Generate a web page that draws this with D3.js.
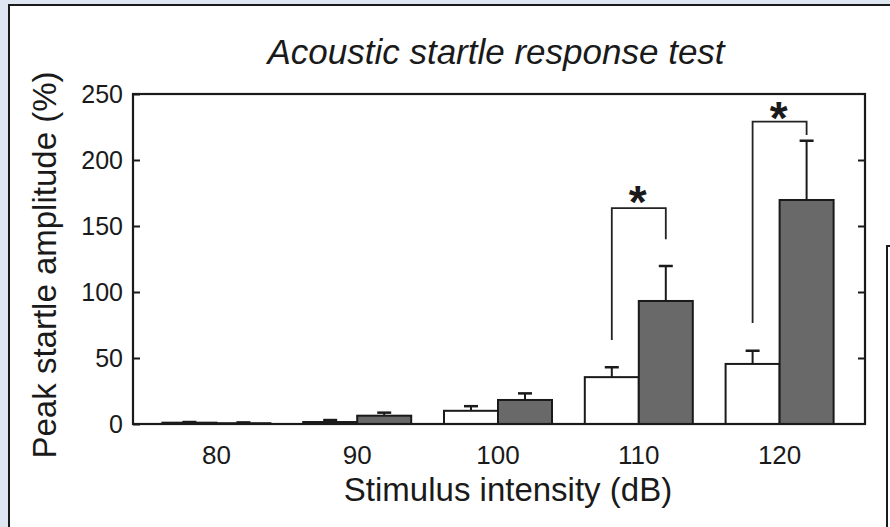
<!DOCTYPE html>
<html>
<head>
<meta charset="utf-8">
<script src="https://cdn.jsdelivr.net/npm/d3@7"></script>
<style>
  html, body { margin: 0; padding: 0; background: #ffffff; }
  svg { display: block; }
  text { font-family: "Liberation Sans", Arial, Helvetica, sans-serif; fill: #1a1a1a; }
</style>
</head>
<body>
<svg id="chart" width="890" height="527"></svg>
<script>
// ---- data ----
const categories = ["80", "90", "100", "110", "120"];
const groups = ["control", "mutant"];
const controlMean = [1, 1.5, 10, 35.5, 45.5];
const controlErr  = [1.5, 3, 13.5, 43, 55.5];
const mutantMean  = [0.6, 6.3, 18.2, 93.2, 169.7];
const mutantErr   = [1.2, 8.6, 23.2, 119.7, 214.6];
const yTicks = [0, 50, 100, 150, 200, 250];
// significance brackets: category, top, left foot, right foot, star centre
const sigCats  = ["110", "120"];
const sigTop   = [163.5, 229];
const sigLeft  = [63.6, 76.5];
const sigRight = [140, 219];
const sigStar  = [174.6, 237.9];

const titleText = "Acoustic startle response test";
const xTitle = "Stimulus intensity (dB)";
const yTitle = "Peak startle amplitude (%)";

// ---- layout ----
const W = 890, H = 527;
const plot = { left: 133, right: 865, top: 94, bottom: 424 };

const svg = d3.select("#chart");

// background + panel
svg.append("rect").attr("x", 0).attr("y", 0).attr("width", W).attr("height", H).attr("fill", "#dde6f1");
svg.append("rect").attr("x", 9).attr("y", 5).attr("width", W - 9).attr("height", H - 5).attr("fill", "#ffffff");
svg.append("path").attr("d", `M9,${H} V5 H${W}`).attr("fill", "none").attr("stroke", "#1a1a1a").attr("stroke-width", 2);
svg.append("path").attr("d", `M887,${H} V246 H${W}`).attr("fill", "none").attr("stroke", "#1a1a1a").attr("stroke-width", 2);

const y = d3.scaleLinear().domain([0, 250]).range([plot.bottom, plot.top]);
const x = d3.scaleBand().domain(categories).range([146, 850]).padding(0);
const inner = d3.scaleBand().domain(groups)
  .range([(x.bandwidth() - 108) / 2, (x.bandwidth() + 108) / 2]).padding(0);

// bars
const data = categories.map((c, i) => ({
  cat: c,
  vals: [
    { g: "control", v: controlMean[i], e: controlErr[i] },
    { g: "mutant", v: mutantMean[i], e: mutantErr[i] }
  ]
}));

const gBars = svg.append("g");
const grp = gBars.selectAll("g.cat").data(data).join("g")
  .attr("class", "cat")
  .attr("transform", d => `translate(${x(d.cat)},0)`);

// error bars (drawn first so bars sit above)
grp.selectAll("g.err").data(d => d.vals).join("g").attr("class", "err").each(function(d) {
  const g = d3.select(this);
  const cx = inner(d.g) + inner.bandwidth() / 2;
  g.append("line").attr("x1", cx).attr("x2", cx).attr("y1", y(d.v)).attr("y2", y(d.e))
    .attr("stroke", "#1a1a1a").attr("stroke-width", 2);
  g.append("line").attr("x1", cx - 7).attr("x2", cx + 7).attr("y1", y(d.e)).attr("y2", y(d.e))
    .attr("stroke", "#1a1a1a").attr("stroke-width", 2.5);
});

grp.selectAll("rect").data(d => d.vals).join("rect")
  .attr("x", d => inner(d.g))
  .attr("width", inner.bandwidth())
  .attr("y", d => y(d.v))
  .attr("height", d => y(0) - y(d.v))
  .attr("fill", d => d.g === "control" ? "#ffffff" : "#696969")
  .attr("stroke", "#1a1a1a")
  .attr("stroke-width", 2);

// frame
svg.append("rect")
  .attr("x", plot.left).attr("y", plot.top)
  .attr("width", plot.right - plot.left).attr("height", plot.bottom - plot.top)
  .attr("fill", "none").attr("stroke", "#1a1a1a").attr("stroke-width", 2.2);

// y axis left (inward ticks)
const yAxisL = d3.axisLeft(y).tickValues(yTicks).tickSizeInner(-7).tickSizeOuter(0).tickPadding(10);
const gyl = svg.append("g").attr("transform", `translate(${plot.left},0)`).call(yAxisL);
gyl.select(".domain").remove();
gyl.selectAll(".tick line").attr("stroke", "#1a1a1a").attr("stroke-width", 2);
gyl.selectAll(".tick text").attr("font-size", 25).attr("font-family", "Liberation Sans, Arial, sans-serif").attr("fill", "#1a1a1a");

// y axis right (inward ticks, no labels)
const yAxisR = d3.axisRight(y).tickValues(yTicks.filter(t => t > 0 && t < 250)).tickSizeInner(-7).tickSizeOuter(0).tickFormat("");
const gyr = svg.append("g").attr("transform", `translate(${plot.right},0)`).call(yAxisR);
gyr.select(".domain").remove();
gyr.selectAll(".tick line").attr("stroke", "#1a1a1a").attr("stroke-width", 2);

// x axis
const xAxis = d3.axisBottom(x).tickSize(0).tickPadding(0);
const gx = svg.append("g").attr("transform", `translate(0,${plot.bottom})`).call(xAxis);
gx.select(".domain").remove();
gx.selectAll(".tick text").attr("font-size", 26).attr("dy", null).attr("y", 40)
  .attr("font-family", "Liberation Sans, Arial, sans-serif").attr("fill", "#1a1a1a");

// significance brackets
sigCats.forEach((c, i) => {
  const xl = x(c) + inner("control") + inner.bandwidth() / 2;
  const xr = x(c) + inner("mutant") + inner.bandwidth() / 2;
  svg.append("path")
    .attr("d", `M${xl},${y(sigLeft[i])} V${y(sigTop[i])} H${xr} V${y(sigRight[i])}`)
    .attr("fill", "none").attr("stroke", "#222").attr("stroke-width", 1.8);
  svg.append("text")
    .attr("x", (xl + xr) / 2 - 1).attr("y", y(sigStar[i]) + 24)
    .attr("text-anchor", "middle").attr("font-size", 46)
    .attr("font-family", "DejaVu Sans, sans-serif").attr("font-weight", "bold")
    .text("*");
});

// titles
svg.append("text").attr("x", 496).attr("y", 64).attr("text-anchor", "middle")
  .attr("font-size", 35).attr("font-style", "italic").text(titleText);
svg.append("text").attr("x", 508).attr("y", 501).attr("text-anchor", "middle")
  .attr("font-size", 33).text(xTitle);
svg.append("text").attr("transform", `translate(56,265) rotate(-90)`).attr("text-anchor", "middle")
  .attr("font-size", 33).text(yTitle);
</script>
</body>
</html>
